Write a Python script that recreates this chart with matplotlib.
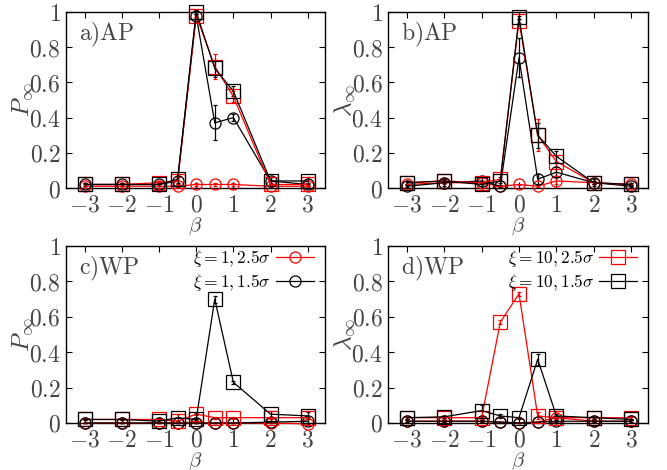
import matplotlib
matplotlib.use("Agg")
import matplotlib.pyplot as plt
from matplotlib.lines import Line2D
import numpy as np

plt.rcParams['mathtext.fontset'] = 'cm'
plt.rcParams['font.family'] = 'serif'
plt.rcParams['font.serif'] = ['DejaVu Serif']

beta = [-3, -2, -1, -0.5, 0, 0.5, 1, 2, 3]
xticks = [-3, -2, -1, 0, 1, 2, 3]
yticks = [0, 0.2, 0.4, 0.6, 0.8, 1.0]
ytick_labels = ['0', '0.2', '0.4', '0.6', '0.8', '1']

series_labels = [r'$\xi=1,2.5\sigma$', r'$\xi=1,1.5\sigma$',
                 r'$\xi=10,2.5\sigma$', r'$\xi=10,1.5\sigma$']

# panel a) AP, P_inf
a_c25 = [0.01, 0.01, 0.01, 0.01, 0.02, 0.02, 0.02, 0.01, 0.01]
a_c15 = [0.02, 0.02, 0.02, 0.04, 0.98, 0.37, 0.40, 0.04, 0.02]
a_s25 = [0.02, 0.02, 0.03, 0.04, 0.98, 0.69, 0.52, 0.02, 0.02]
a_s15 = [0.02, 0.02, 0.02, 0.05, 1.00, 0.68, 0.55, 0.04, 0.04]
a_e_c25 = [0.01, 0.01, 0.01, 0.005, 0.01, 0.01, 0.01, 0.005, 0.005]
a_e_c15 = [0.01, 0.01, 0.01, 0.02, 0.01, 0.10, 0.02, 0.02, 0.01]
a_e_s25 = [0.01, 0.01, 0.01, 0.02, 0.01, 0.07, 0.03, 0.01, 0.01]
a_e_s15 = [0.01, 0.01, 0.01, 0.02, 0.01, 0.05, 0.03, 0.02, 0.02]

# panel b) AP, lambda_inf
b_c25 = [0.02, 0.03, 0.03, 0.01, 0.02, 0.01, 0.04, 0.03, 0.02]
b_c15 = [0.01, 0.03, 0.04, 0.01, 0.74, 0.05, 0.09, 0.03, 0.01]
b_s25 = [0.03, 0.04, 0.03, 0.05, 0.95, 0.30, 0.15, 0.03, 0.02]
b_s15 = [0.03, 0.04, 0.02, 0.04, 0.97, 0.30, 0.18, 0.03, 0.02]
b_e_c25 = [0.005, 0.01, 0.01, 0.005, 0.005, 0.005, 0.02, 0.01, 0.005]
b_e_c15 = [0.005, 0.02, 0.02, 0.005, 0.11, 0.03, 0.03, 0.02, 0.005]
b_e_s25 = [0.01, 0.01, 0.01, 0.01, 0.01, 0.09, 0.03, 0.01, 0.01]
b_e_s15 = [0.01, 0.01, 0.01, 0.01, 0.01, 0.07, 0.03, 0.01, 0.01]

# panel c) WP, P_inf
c_c25 = [0.0, 0.0, 0.0, 0.0, 0.0, 0.0, 0.0, 0.0, -0.005]
c_c15 = [0.0, 0.0, 0.0, 0.0, 0.0, 0.0, 0.0, 0.005, 0.01]
c_s25 = [0.02, 0.02, 0.02, 0.01, 0.05, 0.03, 0.03, 0.03, 0.03]
c_s15 = [0.02, 0.02, 0.01, 0.03, 0.02, 0.70, 0.23, 0.05, 0.04]
c_e_c25 = [0.002, 0.002, 0.002, 0.002, 0.002, 0.002, 0.002, 0.002, 0.002]
c_e_c15 = [0.002, 0.002, 0.002, 0.002, 0.002, 0.002, 0.002, 0.005, 0.02]
c_e_s25 = [0.005, 0.005, 0.005, 0.005, 0.005, 0.005, 0.005, 0.005, 0.005]
c_e_s15 = [0.005, 0.005, 0.005, 0.02, 0.005, 0.02, 0.01, 0.02, 0.02]

# panel d) WP, lambda_inf
d_c25 = [0.01, 0.01, 0.01, 0.005, 0.0, 0.005, 0.03, 0.01, 0.01]
d_c15 = [0.01, 0.01, 0.01, 0.005, 0.0, 0.005, 0.01, 0.01, 0.01]
d_s25 = [0.03, 0.03, 0.03, 0.57, 0.73, 0.04, 0.03, 0.03, 0.03]
d_s15 = [0.03, 0.035, 0.07, 0.04, 0.03, 0.36, 0.04, 0.03, 0.02]
d_e_c25 = [0.005, 0.005, 0.005, 0.002, 0.002, 0.002, 0.005, 0.005, 0.005]
d_e_c15 = [0.005, 0.005, 0.005, 0.002, 0.002, 0.002, 0.005, 0.005, 0.005]
d_e_s25 = [0.005, 0.005, 0.005, 0.01, 0.01, 0.02, 0.005, 0.005, 0.005]
d_e_s15 = [0.005, 0.005, 0.03, 0.01, 0.005, 0.03, 0.01, 0.005, 0.005]

panels = [
    ('a)AP', r'$P_\infty$', [a_c25, a_c15, a_s25, a_s15], [a_e_c25, a_e_c15, a_e_s25, a_e_s15], None),
    ('b)AP', r'$\lambda_\infty$', [b_c25, b_c15, b_s25, b_s15], [b_e_c25, b_e_c15, b_e_s25, b_e_s15], None),
    ('c)WP', r'$P_\infty$', [c_c25, c_c15, c_s25, c_s15], [c_e_c25, c_e_c15, c_e_s25, c_e_s15], [0, 1]),
    ('d)WP', r'$\lambda_\infty$', [d_c25, d_c15, d_s25, d_s15], [d_e_c25, d_e_c15, d_e_s25, d_e_s15], [2, 3]),
]

styles = [('red', 'o'), ('black', 'o'), ('red', 's'), ('black', 's')]
txt = '#444444'

fig = plt.figure(figsize=(6.67, 4.7), dpi=100)
positions = [
    [0.099, 0.600, 0.388, 0.3745],
    [0.582, 0.600, 0.390, 0.3745],
    [0.099, 0.100, 0.388, 0.3766],
    [0.582, 0.100, 0.390, 0.3766],
]

for (label, ylab, ys, es, leg), pos in zip(panels, positions):
    ax = fig.add_axes(pos)
    for i, (y, e) in enumerate(zip(ys, es)):
        col, mk = styles[i]
        ms = 8 if mk == 'o' else 9.5
        h = ax.errorbar(beta, y, yerr=e, color=col, marker=mk, ms=ms,
                        mfc='none', mec=col, mew=0.9, lw=0.9,
                        elinewidth=0.9, capsize=1.2, capthick=0.9,
                        label=series_labels[i], clip_on=False, zorder=3)
        for art in h.lines:
            try:
                art.set_clip_on(False)
            except Exception:
                pass
    ax.set_xlim(-3.5, 3.46)
    ax.set_ylim(0, 1)
    ax.set_xticks(xticks)
    ax.set_xticklabels([r'$%s$' % ('-%d' % abs(t) if t < 0 else '%d' % t) for t in xticks])
    ax.set_yticks(yticks)
    ax.set_yticklabels([r'$%s$' % t for t in ytick_labels])
    ax.tick_params(direction='in', top=True, right=True, length=4, width=0.8,
                   labelsize=17, labelcolor=txt, pad=4)
    for sp in ax.spines.values():
        sp.set_linewidth(1.0)
    ax.set_xlabel(r'$\beta$', fontsize=15, color=txt, labelpad=-1)
    ax.set_ylabel(ylab, fontsize=18, color=txt, labelpad=-4)
    ax.text(0.05, 0.95, r'$\mathrm{%s}$' % label, transform=ax.transAxes,
            fontsize=17, color=txt, va='top', ha='left')
    if leg is not None:
        hs = [Line2D([0], [0], color=styles[j][0], marker=styles[j][1],
                     ms=(8 if styles[j][1] == 'o' else 9.5), mfc='none',
                     mec=styles[j][0], mew=0.9, lw=0.9) for j in leg]
        ax.legend(hs, [series_labels[j] for j in leg],
                  loc='upper right', frameon=False, markerfirst=False,
                  fontsize=12.5, handlelength=2.2, handletextpad=0.3,
                  borderaxespad=0.0, labelspacing=0.2,
                  bbox_to_anchor=(0.985, 1.03))

fig.savefig('out.png', dpi=100)
